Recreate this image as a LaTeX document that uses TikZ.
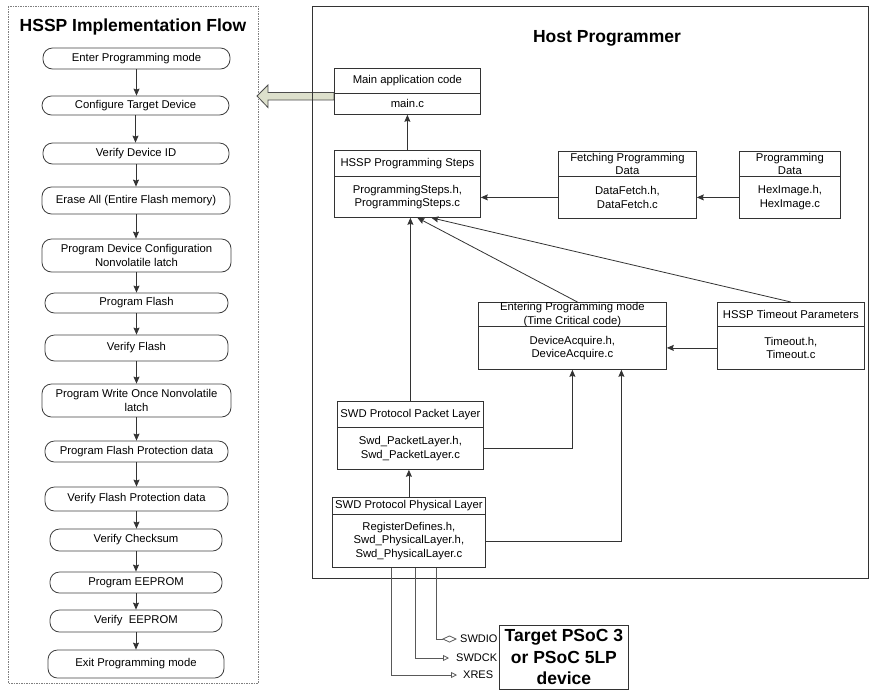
\documentclass[tikz,border=0pt]{standalone}
\usepackage{fontspec}
\setmainfont{Liberation Sans}
\usetikzlibrary{arrows.meta,calc}
\tikzset{
  flow/.style={draw=black!75, line width=0.8pt, rounded corners=9.5pt, inner sep=0pt, align=center, font=\fontsize{11.3}{13.5}\selectfont},
  box/.style={draw=black!80, line width=0.8pt, anchor=north west, inner sep=0pt, align=center, font=\fontsize{11.3}{13.5}\selectfont},
  arr/.style={draw=black!80, line width=0.8pt, -{Stealth[length=7pt,width=6pt,inset=1pt]}},
  sig/.style={draw=black!65, line width=0.8pt},
  lbl/.style={anchor=west, inner sep=0pt, font=\fontsize{11}{13}\selectfont},
  big/.style={font=\fontsize{17.5}{21.5}\selectfont\bfseries, align=center, inner sep=0pt}
}
\begin{document}
\begin{tikzpicture}[x=1pt,y=-1pt]
  \useasboundingbox (0,0) rectangle (878,697);
  % frames
  \draw[gray, line width=0.8pt, dash pattern=on 1.5pt off 1pt] (8,6) rectangle (258,683);
  \filldraw[fill={rgb,255:red,221;green,224;blue,204}, draw=black!70, line width=0.8pt]
    (334,92.5) -- (268,92.5) -- (268,85) -- (257,96) -- (268,107.5) -- (268,100) -- (334,100) -- cycle;
  \draw[black!80, line width=0.8pt] (312,6) rectangle (868,578);
  \node[big] (ftitle) at (133,27) {HSSP Implementation Flow};
  \node[big] (htitle) at (607,38) {Host Programmer};

  % implementation flow
  \node[flow, minimum width=187pt, minimum height=21pt] (f1) at (136.5,58.5) {Enter Programming mode};
  \node[flow, minimum width=187pt, minimum height=19pt] (f2) at (135.5,105.5) {Configure Target Device};
  \node[flow, minimum width=186pt, minimum height=21pt] (f3) at (136,153.5) {Verify Device ID};
  \node[flow, minimum width=188pt, minimum height=27pt] (f4) at (136,200.5) {Erase All (Entire Flash memory)};
  \node[flow, minimum width=189pt, minimum height=33pt] (f5) at (136.5,255.5) {Program Device Configuration\\Nonvolatile latch};
  \node[flow, minimum width=183pt, minimum height=20pt] (f6) at (136.5,303) {Program Flash};
  \node[flow, minimum width=183pt, minimum height=26pt] (f7) at (136.5,348) {Verify Flash};
  \node[flow, minimum width=189pt, minimum height=33pt] (f8) at (136.5,400.5) {Program Write Once Nonvolatile\\latch};
  \node[flow, minimum width=183pt, minimum height=21pt] (f9) at (136.5,451.5) {Program Flash Protection data};
  \node[flow, minimum width=183pt, minimum height=24pt] (f10) at (136.5,499) {Verify Flash Protection data};
  \node[flow, minimum width=172pt, minimum height=22pt] (f11) at (136,540) {Verify Checksum};
  \node[flow, minimum width=172pt, minimum height=21pt] (f12) at (136,582.5) {Program EEPROM};
  \node[flow, minimum width=172pt, minimum height=22pt] (f13) at (136,621) {Verify\ \ EEPROM};
  \node[flow, minimum width=176pt, minimum height=28pt] (f14) at (136,664) {Exit Programming mode};
  \foreach \a/\b in {f1/f2,f2/f3,f3/f4,f4/f5,f5/f6,f6/f7,f7/f8,f8/f9,f9/f10,f10/f11,f11/f12,f12/f13,f13/f14}
    \draw[arr] (\a.south) -- (\a.south |- \b.north);

  % host programmer modules
  \node[box, minimum width=146pt, minimum height=25pt] (mainT) at (334,68) {Main application code};
  \node[box, minimum width=146pt, minimum height=21pt] (mainB) at (334,93) {main.c};
  \node[box, minimum width=146pt, minimum height=26pt] (stepsT) at (334,150) {HSSP Programming Steps};
  \node[box, minimum width=146pt, minimum height=41pt] (stepsB) at (334,176) {ProgrammingSteps.h,\\ProgrammingSteps.c};
  \node[box, minimum width=138pt, minimum height=25pt] (fetT) at (558,151) {Fetching Programming\\Data};
  \node[box, minimum width=138pt, minimum height=42pt] (fetB) at (558,176) {DataFetch.h,\\DataFetch.c};
  \node[box, minimum width=101pt, minimum height=25pt] (pdT) at (739,151) {Programming\\Data};
  \node[box, minimum width=101pt, minimum height=42pt] (pdB) at (739,176) {HexImage.h,\\HexImage.c};
  \node[box, minimum width=188pt, minimum height=24pt] (entT) at (478,302) {Entering Programming mode\\(Time Critical code)};
  \node[box, minimum width=188pt, minimum height=43pt] (entB) at (478,326) {DeviceAcquire.h,\\DeviceAcquire.c};
  \node[box, minimum width=147pt, minimum height=24pt] (toT) at (717,302) {HSSP Timeout Parameters};
  \node[box, minimum width=147pt, minimum height=43pt] (toB) at (717,326) {Timeout.h,\\Timeout.c};
  \node[box, minimum width=146pt, minimum height=26pt] (packT) at (337,401) {SWD Protocol Packet Layer};
  \node[box, minimum width=146pt, minimum height=42pt] (packB) at (337,427) {Swd\_PacketLayer.h,\\Swd\_PacketLayer.c};
  \node[box, minimum width=153pt, minimum height=17pt] (phyT) at (332,497) {SWD Protocol Physical Layer};
  \node[box, minimum width=153pt, minimum height=53pt] (phyB) at (332,514) {RegisterDefines.h,\\Swd\_PhysicalLayer.h,\\Swd\_PhysicalLayer.c};
  \node[box, big, minimum width=129pt, minimum height=64pt] (target) at (499,625) {Target PSoC 3\\or PSoC 5LP\\device};

  % dependencies
  \draw[arr] (stepsT.north) -- (mainB.south);
  \draw[arr] (pdB.west) -- (fetB.east);
  \draw[arr] (fetB.west) -- (fetB.west -| stepsB.east);
  \draw[arr] (toB.west) -- (entB.east);
  \draw[arr] ([xshift=5pt]entT.north) -- ([xshift=10pt]stepsB.south);
  \draw[arr] (toT.north) -- ([xshift=24pt]stepsB.south);
  \draw[arr] (packT.north) -- (packT.north |- stepsB.south);
  \draw[arr] (phyT.north) -- (phyT.north |- packB.south);
  \draw[arr] (packB.east) -| (entB.south);
  \draw[arr] (phyB.east) -| ([xshift=49pt]entB.south);

  % signals to target
  \node[lbl] (swdio) at (460,639) {SWDIO};
  \node[lbl] (swdck) at (456,658) {SWDCK};
  \node[lbl] (xres) at (463,675) {XRES};
  \draw[sig, -{Diamond[open,length=15pt,width=7pt]}] ([xshift=27.5pt]phyB.south) |- ([xshift=-3pt]swdio.west);
  \draw[sig, -{Triangle[open,length=6pt,width=6pt]}] ([xshift=6.5pt]phyB.south) |- ([xshift=-7pt]swdck.west);
  \draw[sig, -{Triangle[open,length=6pt,width=6pt]}] ([xshift=-17.5pt]phyB.south) |- ([xshift=-6pt]xres.west);
\end{tikzpicture}
\end{document}
